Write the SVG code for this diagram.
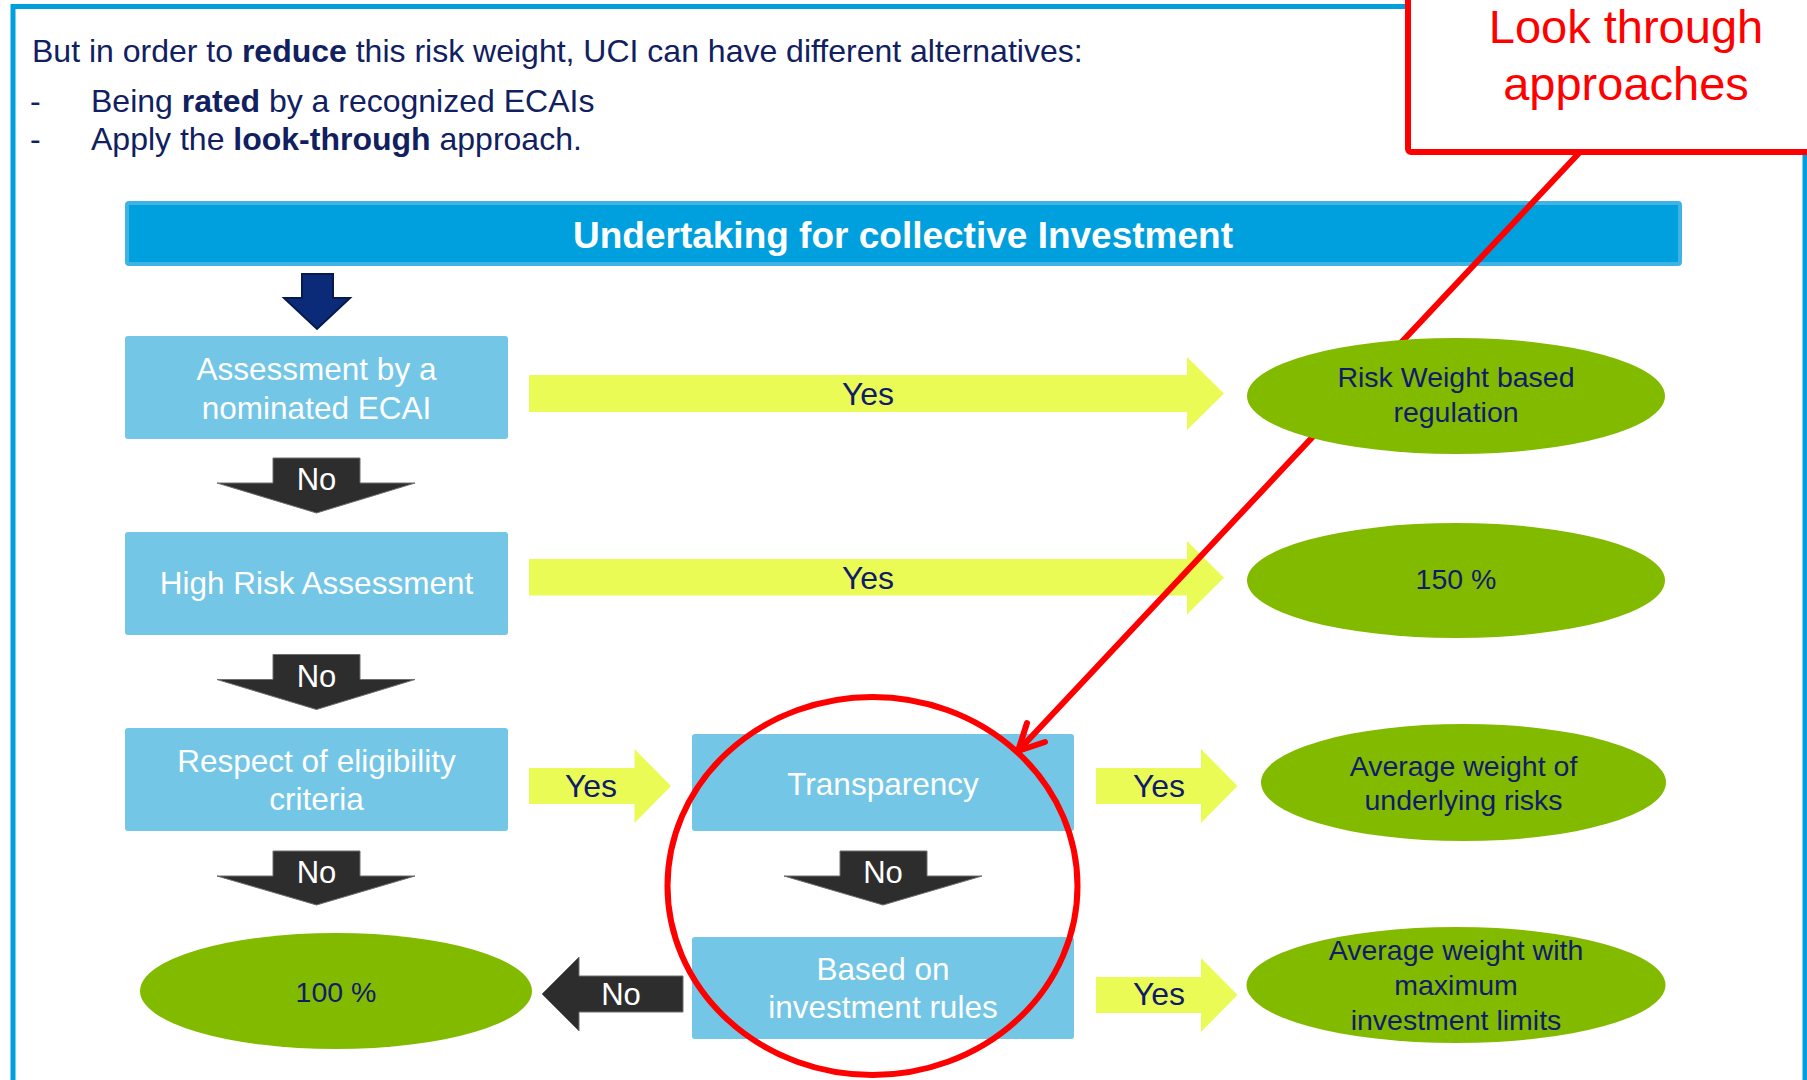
<svg xmlns="http://www.w3.org/2000/svg" width="1807" height="1080" viewBox="0 0 1807 1080">
<defs>
<style>
.t{font-family:"Liberation Sans",Arial,sans-serif}
.intro{font-size:32px;fill:#102060}
.box{fill:#73C6E6}
.btxt{font-size:31.5px;fill:#FFFFFF;text-anchor:middle}
.ell{fill:#82BA00}
.etxt{font-size:28.5px;fill:#101C6B;text-anchor:middle}
.yes{fill:#EBFB55}
.ytxt{font-size:32px;fill:#101C6B;text-anchor:middle}
.no{fill:#2D2D2D;stroke:#6E6E6E;stroke-width:1}
.ntxt{font-size:31px;fill:#FFFFFF;text-anchor:middle}
.red{fill:none;stroke:#FF0000;stroke-width:6;stroke-linecap:round;stroke-linejoin:round}
</style>
</defs>
<rect id="frame" x="13" y="6.5" width="1792" height="1200" fill="#FFFFFF" stroke="#00A0DF" stroke-width="5"/>

<g id="intro" class="t intro">
<text x="32" y="62">But in order to <tspan font-weight="bold">reduce</tspan> this risk weight, UCI can have different alternatives:</text>
<text x="30" y="112">-</text>
<text x="91" y="112">Being <tspan font-weight="bold">rated</tspan> by a recognized ECAIs</text>
<text x="30" y="150">-</text>
<text x="91" y="150">Apply the <tspan font-weight="bold">look-through</tspan> approach.</text>
</g>

<g id="header">
<rect x="127" y="203" width="1553" height="61" rx="2" fill="#00A0DF" stroke="#3FB4E4" stroke-width="4"/>
<text class="t" x="903" y="248" font-size="37" font-weight="bold" fill="#FFFFFF" text-anchor="middle">Undertaking for collective Investment</text>
</g>

<g id="box-ecai">
<rect class="box" x="125" y="336" width="383" height="103" rx="3"/>
<text class="t btxt" x="316.5" y="380">Assessment by a</text>
<text class="t btxt" x="316.5" y="419">nominated ECAI</text>
</g>
<g id="box-highrisk">
<rect class="box" x="125" y="532" width="383" height="103" rx="3"/>
<text class="t btxt" x="316.5" y="594">High Risk Assessment</text>
</g>
<g id="box-eligibility">
<rect class="box" x="125" y="728" width="383" height="103" rx="3"/>
<text class="t btxt" x="316.5" y="772">Respect of eligibility</text>
<text class="t btxt" x="316.5" y="810">criteria</text>
</g>
<g id="box-transparency">
<rect class="box" x="692" y="734" width="382" height="97" rx="3"/>
<text class="t btxt" x="883" y="795">Transparency</text>
</g>
<g id="box-rules">
<rect class="box" x="692" y="937" width="382" height="102" rx="3"/>
<text class="t btxt" x="883" y="980">Based on</text>
<text class="t btxt" x="883" y="1018">investment rules</text>
</g>

<g id="connectors">
<polygon points="302,274 333,274 333,298 350,298 317,329 284,298 302,298" fill="#0B2A78" stroke="#061A4F" stroke-width="2" stroke-linejoin="miter"/>
<g id="yes-ecai">
<polygon class="yes" points="529,375 1187,375 1187,357 1224,393.5 1187,430 1187,412 529,412"/>
<text class="t ytxt" x="868" y="405">Yes</text>
</g>
<g id="yes-highrisk">
<polygon class="yes" points="529,559 1187,559 1187,541 1224,577.75 1187,614.5 1187,595.5 529,595.5"/>
<text class="t ytxt" x="868" y="589">Yes</text>
</g>
<g id="yes-eligibility">
<polygon class="yes" points="529,768 634.5,768 634.5,749 671,786 634.5,823 634.5,804 529,804"/>
<text class="t ytxt" x="591" y="797">Yes</text>
</g>
<g id="yes-transparency">
<polygon class="yes" points="1096,768 1201,768 1201,749 1237.5,786 1201,823 1201,804 1096,804"/>
<text class="t ytxt" x="1159" y="797">Yes</text>
</g>
<g id="yes-rules">
<polygon class="yes" points="1096,977 1201,977 1201,958 1237.5,995 1201,1032 1201,1013 1096,1013"/>
<text class="t ytxt" x="1159" y="1005">Yes</text>
</g>
<g id="no-ecai">
<polygon class="no" points="273,458 360,458 360,483 415,483 316.5,513 217,483 273,483"/>
<text class="t ntxt" x="316.5" y="490">No</text>
</g>
<g id="no-highrisk">
<polygon class="no" points="273,654.5 360,654.5 360,679.5 415,679.5 316.5,709.5 217,679.5 273,679.5"/>
<text class="t ntxt" x="316.5" y="686.5">No</text>
</g>
<g id="no-eligibility">
<polygon class="no" points="273,851 360,851 360,876 415,876 316.5,905 217,876 273,876"/>
<text class="t ntxt" x="316.5" y="883">No</text>
</g>
<g id="no-transparency">
<polygon class="no" points="840,851 927,851 927,876 982,876 883,905 784,876 840,876"/>
<text class="t ntxt" x="883" y="883">No</text>
</g>
<g id="no-rules">
<polygon class="no" points="683,976 579,976 579,957 542,994 579,1031 579,1012 683,1012"/>
<text class="t ntxt" x="621" y="1005">No</text>
</g>
</g>

<g id="callout-line">
<polyline class="red" points="1580,152 1018,751"/>
<polyline class="red" points="1027,723 1018,751 1045,742"/>
</g>

<g id="ell-rating">
<ellipse class="ell" cx="1456" cy="396" rx="209" ry="58"/>
<text class="t etxt" x="1456" y="387">Risk Weight based</text>
<text class="t etxt" x="1456" y="422">regulation</text>
</g>
<g id="ell-150">
<ellipse class="ell" cx="1456" cy="580.5" rx="209" ry="57.5"/>
<text class="t etxt" x="1456" y="589">150 %</text>
</g>
<g id="ell-average">
<ellipse class="ell" cx="1463.5" cy="782.5" rx="202.5" ry="58.5"/>
<text class="t etxt" x="1463.5" y="776">Average weight of</text>
<text class="t etxt" x="1463.5" y="810">underlying risks</text>
</g>
<g id="ell-limits">
<ellipse class="ell" cx="1456" cy="985" rx="209.5" ry="58"/>
<text class="t etxt" x="1456" y="960">Average weight with</text>
<text class="t etxt" x="1456" y="995">maximum</text>
<text class="t etxt" x="1456" y="1030">investment limits</text>
</g>
<g id="ell-100">
<ellipse class="ell" cx="336" cy="991" rx="196" ry="58"/>
<text class="t etxt" x="336" y="1002">100 %</text>
</g>

<g id="highlight">
<ellipse class="red" cx="872.5" cy="886" rx="205" ry="189"/>
</g>

<g id="callout">
<rect x="1408" y="-20" width="420" height="172" rx="3" fill="#FFFFFF" stroke="#FF0000" stroke-width="6"/>
<text class="t" x="1626" y="43" font-size="47" fill="#FF0000" text-anchor="middle">Look through</text>
<text class="t" x="1626" y="100" font-size="47" fill="#FF0000" text-anchor="middle">approaches</text>
</g>
</svg>
